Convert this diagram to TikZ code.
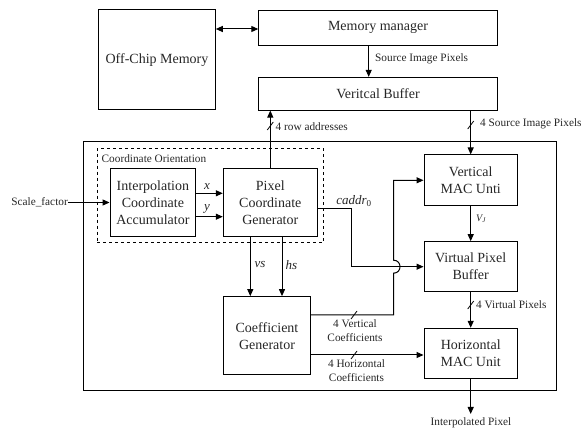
\documentclass[tikz,border=0pt]{standalone}
\usepackage{fontspec}
\setmainfont{Liberation Serif}
\usetikzlibrary{arrows.meta,calc}
\newcommand\wiremark[1]{\draw[wire,line width=0.8pt] ($(#1)+(-3,4)$) -- ($(#1)+(3,-4)$);}
\begin{document}
\begin{tikzpicture}[x=1pt,y=-1pt,
  box/.style={draw, line width=1pt, inner sep=0pt, align=center, font=\fontsize{14}{17}\selectfont, text=black!85},
  lab/.style={inner sep=0pt, align=center, font=\fontsize{11.3}{14}\selectfont, text=black!85},
  ilab/.style={inner sep=0pt, font=\fontsize{13}{15}\selectfont\itshape, text=black!85},
  wire/.style={line width=1pt},
  arr/.style={wire, -{Triangle[length=7pt,width=6pt]}},
  darr/.style={wire, {Triangle[length=7pt,width=6pt]}-{Triangle[length=7pt,width=6pt]}}]
\useasboundingbox (0,0) rectangle (584,430);
% boxes
\node[box, minimum width=116.6, minimum height=100] (off) at (157,60) {Off-Chip Memory};
\node[box, minimum width=238.4, minimum height=35.7] (mm) at (378,27.9) {Memory manager};
\node[box, minimum width=238.4, minimum height=32.7] (vb) at (378,93.7) {Veritcal Buffer};
\node[draw, line width=1pt, minimum width=473.4, minimum height=249, inner sep=0pt] (chip) at (320,266.5) {};
\node[draw, dashed, line width=0.6pt, minimum width=226.3, minimum height=94, inner sep=0pt] (co) at (210.2,195.3) {};
\node[lab, anchor=west] (colab) at (101.5,158.3) {Coordinate Orientation};
\node[box, minimum width=85.7, minimum height=68.4] (ica) at (152.9,202.5) {Interpolation\\Coordinate\\Accumulator};
\node[box, minimum width=94, minimum height=68.4] (pcg) at (270.3,202.5) {Pixel\\Coordinate\\Generator};
\node[box, minimum width=87.4, minimum height=78.3] (cg) at (267,335.8) {Coefficient\\Generator};
\node[box, minimum width=93.3, minimum height=50.7] (vmac) at (470.7,180.3) {Vertical\\MAC Unti};
\node[box, minimum width=93.3, minimum height=50] (vpb) at (470.7,266.7) {Virtual Pixel\\Buffer};
\node[box, minimum width=93.3, minimum height=50] (hmac) at (470.7,353.3) {Horizontal\\MAC Unit};
% labels
\node[lab, anchor=east] (sf) at (68,202.5) {Scale\_factor};
\node[lab, anchor=west] (sip) at (375,59) {Source Image Pixels};
\node[lab, anchor=west] (ra) at (275.5,127) {4 row addresses};
\node[lab, anchor=west] (sip4) at (480,123.5) {4 Source Image Pixels};
\node[ilab] (xl) at (207,187) {x};
\node[ilab] (yl) at (207,209) {y};
\node[ilab] (vsl) at (260,265) {vs};
\node[ilab] (hsl) at (291.5,265) {hs};
\node[ilab] (cad) at (354,200.7) {caddr\textsubscript{\upshape 0}};
\node[lab, font=\fontsize{10}{12}\selectfont\itshape] (vj) at (481,219) {V\textsubscript{J}};
\node[lab] (vcl) at (355,331) {4 Vertical\\Coefficients};
\node[lab] (hcl) at (356.5,371) {4 Horizontal\\Coefficients};
\node[lab, anchor=west] (vpl) at (476,304.7) {4 Virtual Pixels};
\node[lab] (ip) at (471,423) {Interpolated Pixel};
% helper coordinates
\coordinate (ya) at (0,29);
\coordinate (xa) at (368.7,0);
\coordinate (yx) at (0,193.3);
\coordinate (yy) at (0,216.7);
\coordinate (xvs) at (250.3,0);
\coordinate (xhs) at (282,0);
\coordinate (c1) at (351.7,209);
\coordinate (v1) at (393.5,315);
\coordinate (h1) at (0,355);
\coordinate (outp) at (470.7,414);
\coordinate (m1) at (270.3,126);
\coordinate (m2) at (470.7,125);
\coordinate (m3) at (470.7,305);
\coordinate (m4) at (354,315);
\coordinate (m5) at (354,355);
% connectors
\draw[darr] (off.east |- ya) -- (mm.west |- ya);
\draw[arr] (mm.south -| xa) -- (vb.north -| xa);
\draw[arr] (pcg.north) -- (vb.south -| pcg.north);
\draw[arr] (vb.south -| vmac.north) -- (vmac.north);
\draw[arr] (sf.east) -- (ica.west);
\draw[arr] (ica.east |- yx) -- (pcg.west |- yx);
\draw[arr] (ica.east |- yy) -- (pcg.west |- yy);
\draw[arr] (pcg.south -| xvs) -- (cg.north -| xvs);
\draw[arr] (pcg.south -| xhs) -- (cg.north -| xhs);
\draw[arr] (pcg.east |- c1) -- (c1) -- (c1 |- vpb.west) -- (vpb.west);
\draw[arr] (cg.east |- v1) -- (v1) -- ($(v1 |- vpb.west)+(0,6.5)$) .. controls +(8.7,0) and +(8.7,0) .. ($(v1 |- vpb.west)+(0,-6.5)$) -- (v1 |- vmac.west) -- (vmac.west);
\draw[arr] (cg.east |- h1) -- (hmac.west |- h1);
\draw[arr] (vmac.south) -- (vpb.north);
\draw[arr] (vpb.south) -- (hmac.north);
\draw[arr] (hmac.south) -- (outp);
% bus marks
\wiremark{m1}
\wiremark{m2}
\wiremark{m3}
\wiremark{m4}
\wiremark{m5}
\end{tikzpicture}
\end{document}
